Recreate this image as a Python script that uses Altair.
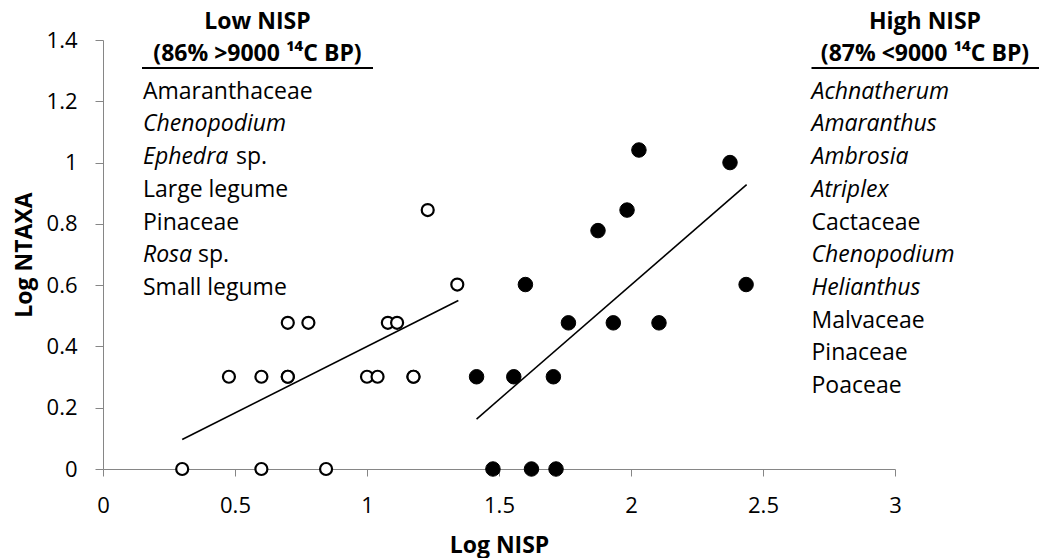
import altair as alt
import pandas as pd

# ---------------- data ----------------
# Low NISP assemblages (open circles)
low_x = [0.30, 0.60, 0.845, 0.477, 0.60, 0.70, 0.70, 1.00, 1.04, 1.176, 1.176,
         0.70, 0.778, 1.079, 1.114, 1.23, 1.342]
low_y = [0.0, 0.0, 0.0, 0.301, 0.301, 0.301, 0.301, 0.301, 0.301, 0.301, 0.301,
         0.477, 0.477, 0.477, 0.477, 0.845, 0.602]

# High NISP assemblages (filled circles)
high_x = [2.03, 2.375, 1.985, 1.875, 1.60, 2.436, 1.763, 1.933, 2.106,
          1.415, 1.556, 1.706, 1.477, 1.623, 1.716]
high_y = [1.041, 1.0, 0.845, 0.778, 0.602, 0.602, 0.477, 0.477, 0.477,
          0.301, 0.301, 0.301, 0.0, 0.0, 0.0]

# trend lines (end points)
low_trend_x = [0.30, 1.346]
low_trend_y = [0.096, 0.550]
high_trend_x = [1.415, 2.438]
high_trend_y = [0.163, 0.928]

x_ticks = [0, 0.5, 1, 1.5, 2, 2.5, 3]
y_ticks = [0, 0.2, 0.4, 0.6, 0.8, 1, 1.2, 1.4]

low_head = ["Low NISP", "(86% >9000 \u00b9\u2074C BP)"]
high_head = ["High NISP", "(87% <9000 \u00b9\u2074C BP)"]

low_items = ["Amaranthaceae", "Chenopodium", "Ephedra", "Large legume",
             "Pinaceae", "Rosa", "Small legume"]
low_italic = [False, True, True, False, False, True, False]
low_suffix = ["", "", "sp.", "", "", "sp.", ""]

high_items = ["Achnatherum", "Amaranthus", "Ambrosia", "Atriplex", "Cactaceae",
              "Chenopodium", "Helianthus", "Malvaceae", "Pinaceae", "Poaceae"]
high_italic = [True, True, True, True, False, True, True, False, False, False]

# ---------------- layout / style ----------------
FONT = "Open Sans"
FS_TICK = 22
FS_LIST = 23
FS_HEAD = 23
FS_TITLE = 23
W, H = 792, 429
AXIS_GREY = "#868686"

LEFT_X, RIGHT_X = 40, 708.5          # list left edges (plot-relative px)
LOW_CX, HIGH_CX = 154.5, 822          # header centres
HEAD1_Y, HEAD2_Y, ULINE_Y = -11.5, 20.5, 28
LIST_Y0, LIST_STEP = 58.7, 32.7
SUFFIX_X = {"Ephedra": 133, "Rosa": 95}
LOW_ULINE = (39, 270)
HIGH_ULINE = (708.5, 936)

xscale = alt.Scale(domain=[0, 3], nice=False, zero=False)
yscale = alt.Scale(domain=[0, 1.4], nice=False, zero=False)

x_enc = alt.X("x:Q", scale=xscale,
              axis=alt.Axis(title="Log NISP", values=x_ticks, format="~g",
                            tickSize=7, labelPadding=19, labelFlush=False,
                            labelOverlap=False, titleBaseline="alphabetic",
                            titleY=83))
y_enc = alt.Y("y:Q", scale=yscale,
              axis=alt.Axis(title="Log NTAXA", values=y_ticks, format="~g",
                            tickSize=8, labelPadding=18, labelFlush=False,
                            labelOverlap=False, titleAngle=270,
                            titleBaseline="alphabetic", titleAlign="center",
                            titleX=-72, titleY=H / 2))

low_df = pd.DataFrame({"x": low_x, "y": low_y})
high_df = pd.DataFrame({"x": high_x, "y": high_y})
lt_df = pd.DataFrame({"x": low_trend_x, "y": low_trend_y})
ht_df = pd.DataFrame({"x": high_trend_x, "y": high_trend_y})

low_line = alt.Chart(lt_df).mark_line(color="black", strokeWidth=1.6).encode(x=x_enc, y=y_enc)
high_line = alt.Chart(ht_df).mark_line(color="black", strokeWidth=1.6).encode(x=x_enc, y=y_enc)

open_pts = alt.Chart(low_df).mark_point(
    shape="circle", filled=True, fill="white", stroke="black",
    strokeWidth=2.2, size=144, opacity=1, fillOpacity=1, strokeOpacity=1
).encode(x=x_enc, y=y_enc)

filled_pts = alt.Chart(high_df).mark_point(
    shape="circle", filled=True, fill="black", stroke="black",
    strokeWidth=1, size=210, opacity=1, fillOpacity=1
).encode(x=x_enc, y=y_enc)


def txt(s, x, y, size, bold=False, italic=False, align="left"):
    return alt.Chart(pd.DataFrame({"t": [s]})).mark_text(
        align=align, baseline="alphabetic", font=FONT, fontSize=size,
        fontWeight="bold" if bold else "normal",
        fontStyle="italic" if italic else "normal", color="black"
    ).encode(x=alt.value(x), y=alt.value(y), text="t:N")


def uline(x1, x2, y):
    return alt.Chart(pd.DataFrame({"a": [0]})).mark_rule(
        color="black", strokeWidth=2
    ).encode(x=alt.value(x1), x2=alt.value(x2), y=alt.value(y))


texts = []
texts.append(txt(low_head[0], LOW_CX, HEAD1_Y, FS_HEAD, bold=True, align="center"))
texts.append(txt(low_head[1], LOW_CX, HEAD2_Y, FS_HEAD, bold=True, align="center"))
texts.append(uline(*LOW_ULINE, ULINE_Y))
texts.append(txt(high_head[0], HIGH_CX, HEAD1_Y, FS_HEAD, bold=True, align="center"))
texts.append(txt(high_head[1], HIGH_CX, HEAD2_Y, FS_HEAD, bold=True, align="center"))
texts.append(uline(*HIGH_ULINE, ULINE_Y))

for i, (name, it, suf) in enumerate(zip(low_items, low_italic, low_suffix)):
    yy = LIST_Y0 + i * LIST_STEP
    texts.append(txt(name, LEFT_X, yy, FS_LIST, italic=it))
    if suf:
        texts.append(txt(suf, SUFFIX_X[name], yy, FS_LIST))

for i, (name, it) in enumerate(zip(high_items, high_italic)):
    yy = LIST_Y0 + i * LIST_STEP
    texts.append(txt(name, RIGHT_X, yy, FS_LIST, italic=it))

chart = alt.layer(low_line, high_line, open_pts, filled_pts, *texts).properties(
    width=W, height=H,
    padding={"left": 103, "top": 40, "right": 149, "bottom": 89},
    autosize=alt.AutoSizeParams(type="none"),
    background="white",
).configure_view(stroke=None).configure_axis(
    grid=False, domainColor=AXIS_GREY, tickColor=AXIS_GREY,
    domainWidth=1, tickWidth=1,
    labelFont=FONT, labelFontSize=FS_TICK, labelColor="black",
    titleFont=FONT, titleFontSize=FS_TITLE, titleFontWeight="bold", titleColor="black",
)

chart.save("out.html", embed_options={"renderer": "svg", "actions": False})
